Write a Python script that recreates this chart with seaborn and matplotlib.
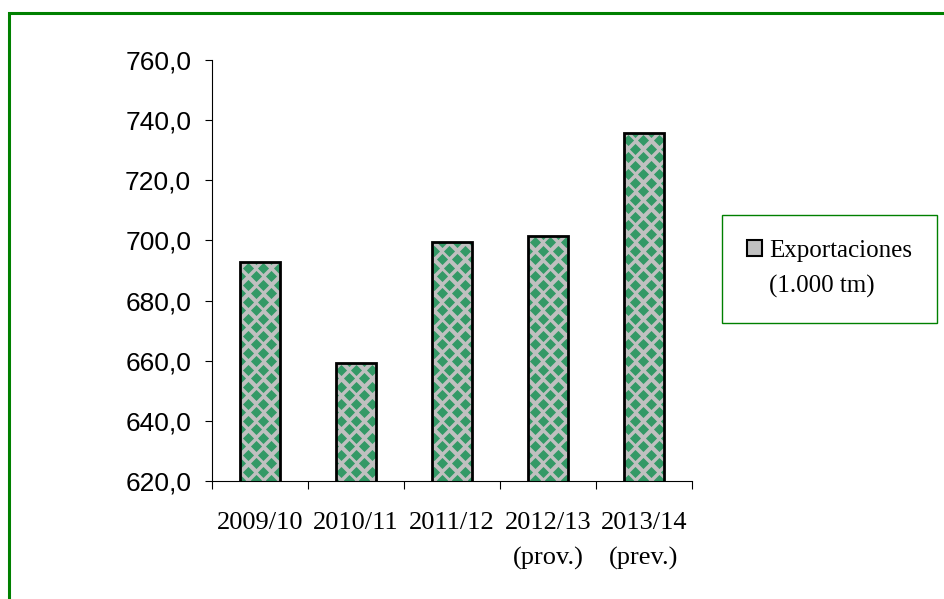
import numpy as np
import pandas as pd
import matplotlib
matplotlib.use("Agg")
import matplotlib.pyplot as plt
from matplotlib.patches import Patch, Rectangle
import seaborn as sns

# datos
campanas = ["2009/10", "2010/11", "2011/12", "2012/13\n(prov.)", "2013/14\n(prev.)"]
exportaciones = [692.8, 659.2, 699.6, 701.6, 735.8]
y_ticks = [620, 640, 660, 680, 700, 720, 740, 760]
serie = "Exportaciones"
unidad = "(1.000 tm)"

GRIS = "#C0C0C0"
VERDE = "#339966"
BORDE = "#008000"

sns.set_theme(style="white")
plt.rcParams["font.family"] = ["Liberation Sans", "DejaVu Sans"]
plt.rcParams["text.color"] = "black"
plt.rcParams["xtick.color"] = "black"
plt.rcParams["ytick.color"] = "black"
plt.rcParams["xtick.labelcolor"] = "black"
plt.rcParams["ytick.labelcolor"] = "black"

df = pd.DataFrame({"Campaña": campanas, "Exportaciones": exportaciones})

fig = plt.figure(figsize=(9.45, 5.99), dpi=100)
ax = fig.add_axes([212 / 945, 118 / 599, 480 / 945, 421 / 599])

sns.barplot(data=df, x="Campaña", y="Exportaciones", color=GRIS, saturation=1,
            width=0.42, linewidth=0, edgecolor="none", ax=ax, zorder=2)
barras = list(ax.patches)

ax.set_xlim(-0.5, len(campanas) - 0.5)
ax.set_ylim(y_ticks[0], y_ticks[-1])

# textura de rombos verdes dentro de cada barra (solo la parte visible)
PX = 15.5  # periodo horizontal en pixeles
PY = 8.5   # separacion entre filas en pixeles
for p in barras:
    y_base = max(p.get_y(), y_ticks[0])
    y_top = p.get_y() + p.get_height()
    (x0, y0), (x1, y1) = ax.transData.transform(
        [[p.get_x(), y_base], [p.get_x() + p.get_width(), y_top]])
    pts = []
    filas = np.arange(np.floor(y0 / PY) * PY - 2 * PY, y1 + 2 * PY, PY)
    for i, yy in enumerate(filas):
        off = (i % 2) * PX / 2
        xs = np.arange(np.floor(x0 / PX) * PX + off - PX, x1 + PX, PX)
        pts += [(xx, yy) for xx in xs]
    data_pts = ax.transData.inverted().transform(np.array(pts))
    sc = ax.scatter(data_pts[:, 0], data_pts[:, 1], marker="D", s=32, color=VERDE,
                    linewidths=0, zorder=3)
    recorte = Rectangle((p.get_x(), y_base), p.get_width(), y_top - y_base,
                        transform=ax.transData)
    sc.set_clip_path(recorte)

# bordes negros encima
sns.barplot(data=df, x="Campaña", y="Exportaciones", color="black", fill=False,
            width=0.42, linewidth=2, ax=ax, zorder=4)

ax.set_xlim(-0.5, len(campanas) - 0.5)
ax.set_ylim(y_ticks[0], y_ticks[-1])
ax.set_xlabel("")
ax.set_ylabel("")

for s in ["top", "right"]:
    ax.spines[s].set_visible(False)
for s in ["left", "bottom"]:
    ax.spines[s].set_color("black")
    ax.spines[s].set_linewidth(0.8)
    ax.spines[s].set_zorder(5)

ax.set_yticks(y_ticks)
ax.set_yticklabels([f"{v:.1f}".replace(".", ",") for v in y_ticks],
                   fontsize=19, fontfamily="Liberation Sans", color="black")
ax.tick_params(axis="y", direction="out", length=5, width=0.8, color="black", pad=10, left=True)

# marcas entre categorias, etiquetas en el centro
ax.set_xticks(np.arange(len(campanas) + 1) - 0.5)
ax.set_xticklabels([])
ax.set_xticks(np.arange(len(campanas)), minor=True)
ax.set_xticklabels(campanas, minor=True, fontsize=19, fontfamily="Liberation Serif",
                   linespacing=1.75, color="black")
ax.tick_params(axis="x", which="major", direction="out", length=6, width=0.8,
               color="black", bottom=True)
ax.tick_params(axis="x", which="minor", length=0, pad=22, bottom=True)
for t in ax.get_xticklabels(minor=True):
    t.set_verticalalignment("top")

handles = [Patch(facecolor=GRIS, edgecolor="black", linewidth=1.5),
           Patch(facecolor="none", edgecolor="none")]
leg = fig.legend(handles, [serie, unidad], loc="upper left",
                 bbox_to_anchor=(722 / 945, 1 - 215 / 599), frameon=True,
                 fancybox=False, edgecolor=BORDE, framealpha=1,
                 prop={"family": "Liberation Serif", "size": 18},
                 handlelength=0.6, handleheight=0.6, handletextpad=0.3,
                 borderpad=1.0, labelspacing=0.5, borderaxespad=0,
                 labelcolor="black")
leg.get_frame().set_linewidth(1.0)

# marco verde del grafico
fig.add_artist(Rectangle((9 / 945, -0.5), 2.0, 0.5 + 1 - 13 / 599,
                         transform=fig.transFigure, fill=False,
                         edgecolor=BORDE, linewidth=2.2))

fig.savefig("out.png", dpi=100)
